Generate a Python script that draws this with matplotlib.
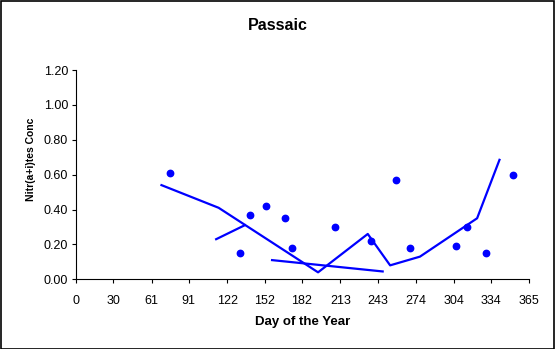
import matplotlib
matplotlib.use('Agg')
import matplotlib.pyplot as plt
from matplotlib.patches import Rectangle

plt.rcParams['font.family'] = ['Liberation Sans', 'DejaVu Sans']

# sampled concentrations
obs_day = [76, 132, 140, 153, 168, 174, 209, 238, 258, 269, 306, 315, 330, 352]
obs_conc = [0.61, 0.15, 0.37, 0.42, 0.35, 0.18, 0.30, 0.22, 0.57, 0.18, 0.19, 0.30, 0.15, 0.60]

# trend line pieces
trend_day = [69, 115, 195, 235, 253, 277, 323, 341]
trend_conc = [0.54, 0.41, 0.04, 0.26, 0.08, 0.13, 0.35, 0.685]
trend2_day = [113, 136]
trend2_conc = [0.23, 0.31]
trend3_day = [158, 247]
trend3_conc = [0.11, 0.045]

xticks = [0, 30, 61, 91, 122, 152, 182, 213, 243, 274, 304, 334, 365]
yticks = [0.0, 0.2, 0.4, 0.6, 0.8, 1.0, 1.2]

blue = '#0000ff'

fig = plt.figure(figsize=(5.56, 3.49), dpi=100)
ax = fig.add_axes([0.1362, 0.1997, 0.8158, 0.5997])

ax.plot(trend_day, trend_conc, color=blue, lw=1.6)
ax.plot(trend2_day, trend2_conc, color=blue, lw=1.6)
ax.plot(trend3_day, trend3_conc, color=blue, lw=1.6)
ax.plot(obs_day, obs_conc, 'o', color=blue, ms=4.6, mec=blue)

ax.set_xlim(0, 365)
ax.set_ylim(0, 1.2)
ax.set_xticks(xticks)
ax.set_yticks(yticks)
ax.set_yticklabels(['%.2f' % v for v in yticks])
ax.tick_params(axis='both', labelsize=9, length=3, width=0.8, color='black')
ax.tick_params(axis='x', pad=8)
ax.tick_params(axis='y', pad=2.5)
for s in ['top', 'right']:
    ax.spines[s].set_visible(False)
for s in ['left', 'bottom']:
    ax.spines[s].set_linewidth(0.8)

ax.set_xlabel('Day of the Year', fontsize=9.5, fontweight='bold')
ax.xaxis.set_label_coords(0.5, -0.175)
ax.set_ylabel('Nitr(a+i)tes Conc', fontsize=7.5, fontweight='bold')
ax.yaxis.set_label_coords(-0.088, 0.575)

fig.text(277.5 / 556, 1 - 26 / 349, 'Passaic', ha='center', va='center',
         fontsize=11.5, fontweight='bold')

# outer frame
fig.patches.append(Rectangle((0.5 / 556, 0.5 / 349), 553.5 / 556, 347.5 / 349,
                             transform=fig.transFigure, fill=False,
                             edgecolor='black', lw=1.2))

fig.savefig('out.png', dpi=100)
